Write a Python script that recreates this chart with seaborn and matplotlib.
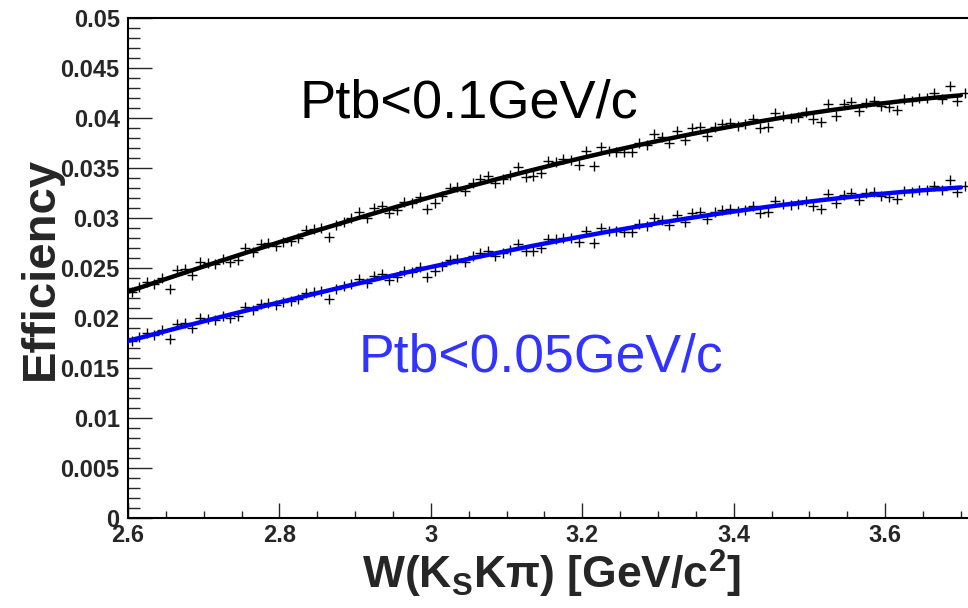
import numpy as np
import pandas as pd
import matplotlib
matplotlib.use("Agg")
import matplotlib.pyplot as plt
import seaborn as sns
from matplotlib.ticker import MultipleLocator, FuncFormatter

# Binning of the K_S K pi invariant mass (bin centres)
w_first = 2.605
w_step = 0.01

# Efficiency per bin, Pt balance < 0.1 GeV/c
eff_pt010 = [
    0.02263, 0.02310, 0.02363, 0.02337, 0.02403, 0.02290, 0.02480, 0.02490, 0.02430, 0.02557,
    0.02547, 0.02537, 0.02590, 0.02563, 0.02580, 0.02700, 0.02663, 0.02737, 0.02747, 0.02723,
    0.02757, 0.02770, 0.02797, 0.02880, 0.02890, 0.02903, 0.02807, 0.02930, 0.02963, 0.02997,
    0.03057, 0.03000, 0.03097, 0.03120, 0.03047, 0.03080, 0.03163, 0.03147, 0.03213, 0.03087,
    0.03153, 0.03220, 0.03297, 0.03313, 0.03273, 0.03347, 0.03387, 0.03420, 0.03353, 0.03387,
    0.03430, 0.03507, 0.03413, 0.03420, 0.03447, 0.03573, 0.03563, 0.03587, 0.03580, 0.03530,
    0.03673, 0.03520, 0.03713, 0.03670, 0.03665, 0.03663, 0.03660, 0.03755, 0.03730, 0.03840,
    0.03810, 0.03752, 0.03873, 0.03785, 0.03898, 0.03913, 0.03820, 0.03910, 0.03943, 0.03955,
    0.03922, 0.03935, 0.03987, 0.03905, 0.03913, 0.04050, 0.04017, 0.03997, 0.04010, 0.04058,
    0.03992, 0.03958, 0.04143, 0.04025, 0.04137, 0.04158, 0.04068, 0.04155, 0.04172, 0.04122,
    0.04108, 0.04080, 0.04188, 0.04168, 0.04197, 0.04200, 0.04252, 0.04193, 0.04322, 0.04175,
    0.04250,
]

# Efficiency per bin, Pt balance < 0.05 GeV/c
eff_pt005 = [
    0.01770, 0.01806, 0.01848, 0.01828, 0.01879, 0.01791, 0.01939, 0.01947, 0.01900, 0.02000,
    0.01992, 0.01984, 0.02025, 0.02004, 0.02018, 0.02111, 0.02082, 0.02140, 0.02148, 0.02129,
    0.02156, 0.02166, 0.02187, 0.02252, 0.02260, 0.02270, 0.02195, 0.02291, 0.02317, 0.02344,
    0.02391, 0.02346, 0.02422, 0.02440, 0.02383, 0.02409, 0.02473, 0.02461, 0.02513, 0.02414,
    0.02466, 0.02518, 0.02578, 0.02591, 0.02559, 0.02617, 0.02649, 0.02674, 0.02622, 0.02649,
    0.02682, 0.02742, 0.02669, 0.02674, 0.02696, 0.02794, 0.02786, 0.02805, 0.02800, 0.02760,
    0.02872, 0.02753, 0.02904, 0.02870, 0.02866, 0.02864, 0.02862, 0.02936, 0.02917, 0.03003,
    0.02979, 0.02934, 0.03029, 0.02960, 0.03048, 0.03060, 0.02987, 0.03058, 0.03083, 0.03093,
    0.03067, 0.03077, 0.03118, 0.03054, 0.03060, 0.03167, 0.03141, 0.03126, 0.03136, 0.03173,
    0.03122, 0.03095, 0.03240, 0.03148, 0.03235, 0.03252, 0.03181, 0.03249, 0.03263, 0.03223,
    0.03212, 0.03191, 0.03275, 0.03259, 0.03282, 0.03284, 0.03325, 0.03279, 0.03380, 0.03265,
    0.03324,
]

fit_lo, fit_hi = 2.6, 3.7
label_pt010 = "Ptb<0.1GeV/c"
label_pt005 = "Ptb<0.05GeV/c"
x_title = r"$\mathbf{W(K_{S}K\pi)\ [GeV/c^{2}]}$"
y_title = "Efficiency"

sns.set_theme(style="white")
plt.rcParams["font.family"] = ["Liberation Sans", "DejaVu Sans"]
plt.rcParams["mathtext.fontset"] = "custom"
plt.rcParams["mathtext.bf"] = "Liberation Sans:bold"
plt.rcParams["mathtext.rm"] = "Liberation Sans"
plt.rcParams["mathtext.it"] = "Liberation Sans:italic"

w = np.round(w_first + w_step * np.arange(len(eff_pt010)), 3)
df = pd.DataFrame({"W": w, "pt010": eff_pt010, "pt005": eff_pt005})

fig = plt.figure(figsize=(9.68, 6.08), dpi=100)
ax = fig.add_axes([128 / 968, 90 / 608, 848 / 968, 500 / 608])

# data points
for col in ["pt010", "pt005"]:
    sns.scatterplot(data=df, x="W", y=col, marker="+", color="black", s=45,
                    linewidth=1.0, ax=ax, zorder=2, legend=False)

# polynomial fits over the fit window
in_fit = (df["W"] >= fit_lo) & (df["W"] <= fit_hi)
grid = np.linspace(fit_lo, fit_hi, 300)
for col, colr in [("pt010", "black"), ("pt005", "#0000ff")]:
    coef = np.polyfit(df.loc[in_fit, "W"], df.loc[in_fit, col], 3)
    sns.lineplot(x=grid, y=np.polyval(coef, grid), color=colr, linewidth=3.2,
                 ax=ax, zorder=3)

ax.set_xlim(2.6, 3.72)
ax.set_ylim(0, 0.05)

ax.xaxis.set_major_locator(MultipleLocator(0.2))
ax.xaxis.set_minor_locator(MultipleLocator(0.05))
ax.yaxis.set_major_locator(MultipleLocator(0.005))
ax.yaxis.set_minor_locator(MultipleLocator(0.001))
fmt = FuncFormatter(lambda v, p: "%g" % round(v, 4))
ax.xaxis.set_major_formatter(fmt)
ax.yaxis.set_major_formatter(fmt)

ax.tick_params(axis="x", which="major", direction="in", length=10.8, width=1,
               bottom=True, top=False, pad=4, labelsize=17)
ax.tick_params(axis="x", which="minor", direction="in", length=5.4, width=1,
               bottom=True, top=False)
ax.tick_params(axis="y", which="major", direction="in", length=17.3, width=1,
               left=True, right=False, pad=6, labelsize=17)
ax.tick_params(axis="y", which="minor", direction="in", length=8.6, width=1,
               left=True, right=False)
for lab in ax.get_xticklabels() + ax.get_yticklabels():
    lab.set_fontweight("bold")

for side in ["left", "bottom", "top", "right"]:
    ax.spines[side].set_color("black")
    ax.spines[side].set_linewidth(1.5)

ax.set_xlabel(x_title, fontsize=32)
ax.set_ylabel(y_title, fontsize=34, fontweight="bold")
ax.xaxis.set_label_coords(0.5, -0.060)
ax.yaxis.set_label_coords(-0.077, 0.5)

ax.text(2.827, 0.0400, label_pt010, fontsize=39, color="black", va="baseline")
ax.text(2.904, 0.0146, label_pt005, fontsize=38.5, color="#3333ff", va="baseline")

fig.savefig("out.png", dpi=100)
